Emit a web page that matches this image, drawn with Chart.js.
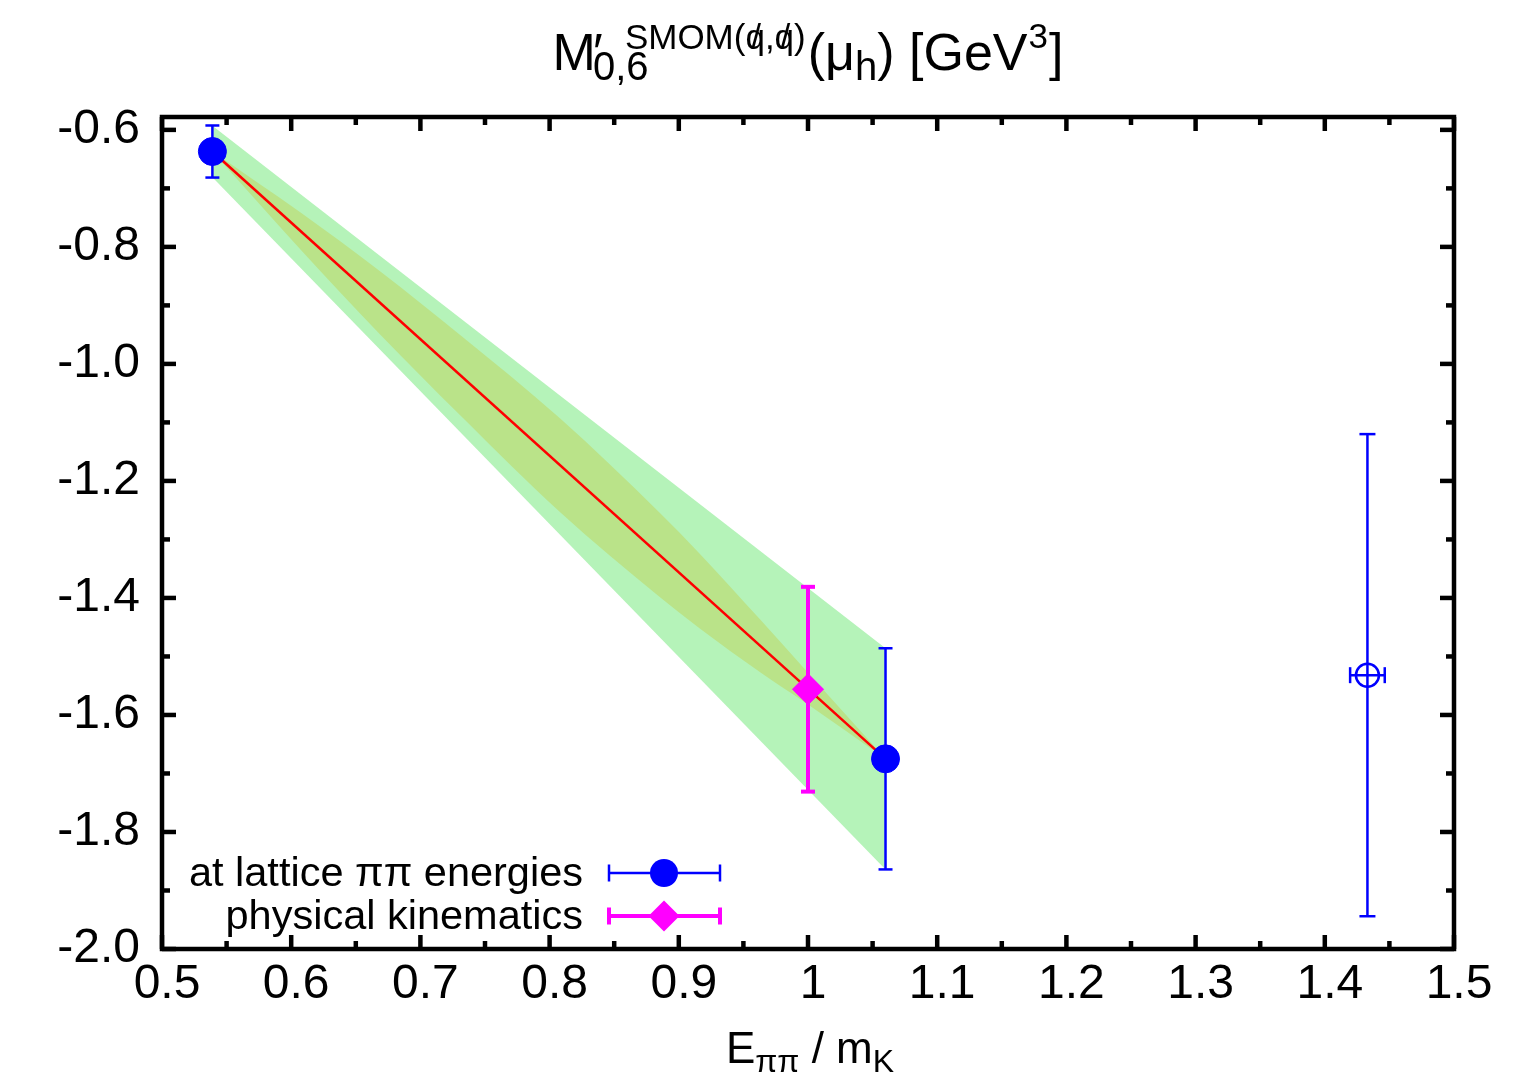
<!DOCTYPE html>
<html>
<head>
<meta charset="utf-8">
<script src="https://cdn.jsdelivr.net/npm/chart.js@4.4.1/dist/chart.umd.min.js"></script>
<style>
html,body{margin:0;padding:0;background:#fff;}
#wrap{width:1521px;height:1073px;position:relative;}
</style>
</head>
<body>
<div id="wrap"><canvas id="c" width="1521" height="1073"></canvas></div>
<script>
// ---------- data ----------
const xTickValues = [0.5, 0.6, 0.7, 0.8, 0.9, 1.0, 1.1, 1.2, 1.3, 1.4, 1.5];
const xTickLabels = ['0.5', '0.6', '0.7', '0.8', '0.9', '1', '1.1', '1.2', '1.3', '1.4', '1.5'];
const yTickValues = [-2.0, -1.8, -1.6, -1.4, -1.2, -1.0, -0.8, -0.6];
const yTickLabels = ['-2.0', '-1.8', '-1.6', '-1.4', '-1.2', '-1.0', '-0.8', '-0.6'];

const latticeX = [0.539, 1.060];
const latticeY = [-0.637, -1.675];
const latticeErr = [0.0445, 0.189];

const physX = [1.0];
const physY = [-1.556];
const physErr = [0.175];

const heavyX = [1.433];
const heavyY = [-1.532];
const heavyErrY = [0.412];
const heavyErrX = [0.0134];

const fitX = [0.539, 1.060];
const fitY = [-0.637, -1.675];

const outerBandX = [0.539, 1.060];
const outerUpper = [-0.593, -1.486];
const outerLower = [-0.681, -1.864];

const innerBandX = [0.539, 0.607, 0.669, 0.731, 0.808, 0.885, 0.916, 0.963, 1.0, 1.060];
const innerUpper = [-0.637, -0.741, -0.842, -0.951, -1.093, -1.254, -1.324, -1.437, -1.528, -1.675];
const innerLower = [-0.637, -0.804, -0.950, -1.088, -1.253, -1.398, -1.452, -1.527, -1.582, -1.675];

const seriesLabels = ['at lattice ππ energies', 'physical kinematics'];

// ---------- helpers ----------
const FONT = '"Liberation Sans", Arial, Helvetica, sans-serif';
const pts = (xs, ys) => xs.map((x, i) => ({x: x, y: ys[i]}));
const BLUE = '#0000ff', MAG = '#ff00ff';

function line(ctx, x1, y1, x2, y2) { ctx.beginPath(); ctx.moveTo(x1, y1); ctx.lineTo(x2, y2); ctx.stroke(); }

function errorBar(ctx, xs, ys, x, y, ey, ex, color, lw, cap) {
  const px = xs.getPixelForValue(x), py = ys.getPixelForValue(y);
  const pt = ys.getPixelForValue(y + ey), pb = ys.getPixelForValue(y - ey);
  ctx.save();
  ctx.strokeStyle = color; ctx.lineWidth = lw; ctx.lineCap = 'butt';
  line(ctx, px, pt, px, pb);
  line(ctx, px - cap, pt, px + cap, pt);
  line(ctx, px - cap, pb, px + cap, pb);
  if (ex) {
    const pl = xs.getPixelForValue(x - ex), pr = xs.getPixelForValue(x + ex);
    line(ctx, pl, py, pr, py);
    line(ctx, pl, py - cap, pl, py + cap);
    line(ctx, pr, py - cap, pr, py + cap);
  }
  ctx.restore();
}

const errorBarPlugin = {
  id: 'errorBars',
  beforeDatasetDraw(chart, args) {
    const ds = chart.data.datasets[args.index];
    if (!ds.errY) return;
    const ctx = chart.ctx, xs = chart.scales.x, ys = chart.scales.y;
    ds.data.forEach((p, i) => {
      errorBar(ctx, xs, ys, p.x, p.y, ds.errY[i], ds.errX ? ds.errX[i] : 0, ds.errColor, ds.errWidth, ds.errCap);
    });
  }
};

function measure(ctx, t, s) { ctx.font = s + 'px ' + FONT; return ctx.measureText(t).width; }

function drawItems(ctx, items, cx, baseY) {
  let minX = Infinity, maxX = -Infinity;
  items.forEach(it => { minX = Math.min(minX, it.x); maxX = Math.max(maxX, it.x + measure(ctx, it.t, it.s)); });
  const off = cx - (minX + maxX) / 2;
  ctx.save();
  ctx.fillStyle = '#000'; ctx.textAlign = 'left'; ctx.textBaseline = 'alphabetic';
  items.forEach(it => { ctx.font = it.s + 'px ' + FONT; ctx.fillText(it.t, it.x + off, baseY + it.dy); });
  ctx.restore();
}

const decorPlugin = {
  id: 'decor',
  afterDraw(chart) {
    const ctx = chart.ctx, a = chart.chartArea, xs = chart.scales.x, ys = chart.scales.y;
    // frame + inward ticks
    ctx.save();
    ctx.strokeStyle = '#000'; ctx.lineWidth = 4.5; ctx.lineCap = 'butt'; ctx.lineJoin = 'miter';
    const MAJ = 14, MIN = 8;
    xTickValues.forEach((v, i) => {
      const p = xs.getPixelForValue(v);
      line(ctx, p, a.bottom, p, a.bottom - MAJ); line(ctx, p, a.top, p, a.top + MAJ);
      if (i < xTickValues.length - 1) {
        const q = xs.getPixelForValue((v + xTickValues[i + 1]) / 2);
        line(ctx, q, a.bottom, q, a.bottom - MIN); line(ctx, q, a.top, q, a.top + MIN);
      }
    });
    yTickValues.forEach((v, i) => {
      const p = ys.getPixelForValue(v);
      line(ctx, a.left, p, a.left + MAJ, p); line(ctx, a.right, p, a.right - MAJ, p);
      if (i < yTickValues.length - 1) {
        const q = ys.getPixelForValue((v + yTickValues[i + 1]) / 2);
        line(ctx, a.left, q, a.left + MIN, q); line(ctx, a.right, q, a.right - MIN, q);
      }
    });
    ctx.strokeRect(a.left, a.top, a.right - a.left, a.bottom - a.top);
    ctx.restore();

    const cx = (a.left + a.right) / 2;
    // title
    {
      const S = 52, SUB = 40, SUP = 35;
      const items = [];
      let x = 0;
      items.push({t: 'M', s: S, x: x, dy: 0}); x += measure(ctx, 'M', S);
      items.push({t: '′', s: S, x: x - 3, dy: 0});
      const subX = x - 3;
      items.push({t: '0,6', s: SUB, x: subX, dy: 10});
      let sx = x + 29;
      const supDy = -21;
      const push = (t) => { items.push({t: t, s: SUP, x: sx, dy: supDy}); const w = measure(ctx, t, SUP); sx += w; return w; };
      const slashQ = () => {
        const x0 = sx; const w = push('q');
        const ws = measure(ctx, '/', SUP);
        items.push({t: '/', s: SUP, x: x0 + (w - ws) / 2 + 1, dy: supDy});
      };
      push('SMOM('); slashQ(); push(','); slashQ(); push(')');
      x = Math.max(subX + measure(ctx, '0,6', SUB), sx) + 2;
      items.push({t: '(μ', s: S, x: x, dy: 0}); x += measure(ctx, '(μ', S);
      items.push({t: 'h', s: SUB, x: x, dy: 10}); x += measure(ctx, 'h', SUB);
      items.push({t: ') [GeV', s: S, x: x, dy: 0}); x += measure(ctx, ') [GeV', S);
      items.push({t: '3', s: SUP, x: x + 1, dy: -22}); x += measure(ctx, '3', SUP) + 2;
      items.push({t: ']', s: S, x: x, dy: 0});
      drawItems(ctx, items, cx, 70);
    }
    // x-axis label
    {
      const S = 44, SUB = 32;
      const items = [];
      let x = 0;
      items.push({t: 'E', s: S, x: x, dy: 0}); x += measure(ctx, 'E', S);
      items.push({t: 'ππ', s: SUB, x: x, dy: 9}); x += measure(ctx, 'ππ', SUB);
      items.push({t: ' / m', s: S, x: x, dy: 0}); x += measure(ctx, ' / m', S);
      items.push({t: 'K', s: SUB, x: x, dy: 9});
      drawItems(ctx, items, 810, 1063);
    }
    // legend
    {
      const rows = [873, 916];
      const textRight = 583, l1 = 609, l2 = 720, mx = 664;
      const defs = [
        {color: BLUE, lw: 2.5, style: 'circle', r: 14},
        {color: MAG, lw: 4, style: 'rectRot', r: 15.5}
      ];
      ctx.save();
      ctx.font = '41.5px ' + FONT; ctx.textAlign = 'right'; ctx.textBaseline = 'middle';
      seriesLabels.forEach((lab, i) => {
        const y = rows[i], d = defs[i];
        ctx.fillStyle = '#000';
        ctx.fillText(lab, textRight, y + 2);
        ctx.strokeStyle = d.color; ctx.lineWidth = d.lw;
        line(ctx, l1, y, l2, y);
        line(ctx, l1, y - 8.5, l1, y + 8.5);
        line(ctx, l2, y - 8.5, l2, y + 8.5);
        ctx.fillStyle = d.color; ctx.strokeStyle = d.color; ctx.lineWidth = 1;
        ctx.beginPath();
        if (d.style === 'circle') ctx.arc(mx, y, d.r, 0, Math.PI * 2);
        else { ctx.moveTo(mx - d.r, y); ctx.lineTo(mx, y - d.r); ctx.lineTo(mx + d.r, y); ctx.lineTo(mx, y + d.r); ctx.closePath(); }
        ctx.fill();
      });
      ctx.restore();
    }
  }
};

const chart = new Chart(document.getElementById('c'), {
  type: 'scatter',
  data: {
    datasets: [
      {label: 'outer upper', data: pts(outerBandX, outerUpper), showLine: true, borderWidth: 0, borderColor: 'rgba(0,0,0,0)',
        pointRadius: 0, fill: '+1', backgroundColor: '#b5f3b9', order: 10},
      {label: 'outer lower', data: pts(outerBandX, outerLower), showLine: true, borderWidth: 0, borderColor: 'rgba(0,0,0,0)',
        pointRadius: 0, fill: false, order: 10},
      {label: 'inner upper', data: pts(innerBandX, innerUpper), showLine: true, borderWidth: 0, borderColor: 'rgba(0,0,0,0)',
        pointRadius: 0, fill: '+1', backgroundColor: '#bae389', order: 9, cubicInterpolationMode: 'monotone'},
      {label: 'inner lower', data: pts(innerBandX, innerLower), showLine: true, borderWidth: 0, borderColor: 'rgba(0,0,0,0)',
        pointRadius: 0, fill: false, order: 9, cubicInterpolationMode: 'monotone'},
      {label: 'fit', data: pts(fitX, fitY), showLine: true, borderWidth: 2.5, borderColor: '#ff0000',
        pointRadius: 0, fill: false, order: 8},
      {label: seriesLabels[0], data: pts(latticeX, latticeY), showLine: false, pointStyle: 'circle', pointRadius: 14,
        pointBackgroundColor: BLUE, pointBorderColor: BLUE, pointBorderWidth: 1, order: 3,
        errY: latticeErr, errColor: BLUE, errWidth: 2.5, errCap: 7},
      {label: seriesLabels[1], data: pts(physX, physY), showLine: false, pointStyle: 'rectRot', pointRadius: 15.5,
        pointBackgroundColor: MAG, pointBorderColor: MAG, pointBorderWidth: 1, order: 2,
        errY: physErr, errColor: MAG, errWidth: 4, errCap: 7},
      {label: 'heavy', data: pts(heavyX, heavyY), showLine: false, pointStyle: 'circle', pointRadius: 11.5,
        pointBackgroundColor: 'rgba(0,0,0,0)', pointBorderColor: BLUE, pointBorderWidth: 2.5, order: 1,
        errY: heavyErrY, errX: heavyErrX, errColor: BLUE, errWidth: 2.5, errCap: 8}
    ]
  },
  options: {
    responsive: false,
    animation: false,
    devicePixelRatio: 1,
    events: [],
    layout: {padding: {top: 117, right: 67, left: 0, bottom: 0}},
    elements: {line: {tension: 0}},
    plugins: {
      legend: {display: false},
      tooltip: {enabled: false},
      title: {display: false},
      filler: {propagate: false}
    },
    scales: {
      x: {
        type: 'linear', min: 0.5, max: 1.5,
        grid: {display: false, drawTicks: false, tickLength: 0},
        border: {display: false},
        afterBuildTicks: (s) => { s.ticks = xTickValues.map(v => ({value: v})); },
        afterFit: (s) => { s.height = 124; },
        ticks: {
          autoSkip: false, maxRotation: 0, padding: 7, labelOffset: 5,
          color: '#000', font: {family: FONT, size: 48},
          callback: (v, i) => xTickLabels[i]
        }
      },
      y: {
        type: 'linear', min: -2.0, max: -0.578,
        grid: {display: false, drawTicks: false, tickLength: 0},
        border: {display: false},
        afterBuildTicks: (s) => { s.ticks = yTickValues.map(v => ({value: v})); },
        afterFit: (s) => { s.width = 162; },
        ticks: {
          autoSkip: false, padding: 22,
          color: '#000', font: {family: FONT, size: 48},
          callback: (v, i) => yTickLabels[i]
        }
      }
    }
  },
  plugins: [errorBarPlugin, decorPlugin]
});
</script>
</body>
</html>
